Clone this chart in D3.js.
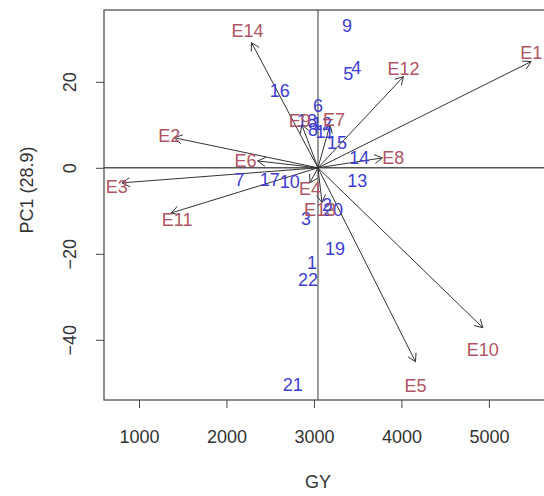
<!DOCTYPE html>
<html>
<head>
<meta charset="utf-8">
<script src="https://cdn.jsdelivr.net/npm/d3@7"></script>
<style>
  body { margin: 0; background: #fff; }
  text { font-family: "Liberation Sans", Arial, sans-serif; }
</style>
</head>
<body>
<div id="chart"></div>
<script>
// biplot data (GY units / PC1 units)
let origin = [3046, 0]

let envNames = ["E1", "E2", "E3", "E4", "E5", "E6", "E7", "E8", "E9", "E10", "E11", "E12", "E13", "E14"]
let envX = [5483, 1402, 805, 2954, 4161, 2356, 3184, 3782, 2862, 4931, 1368, 4023, 3092, 2287]
let envY = [24.7, 7.0, -3.5, -3.5, -45.1, 1.6, 10.0, 2.3, 10.0, -37.2, -10.5, 21.2, -8.1, 29.1]
let envLabelX = [5483, 1345, 747, 2954, 4161, 2218, 3230, 3908, 2839, 4931, 1437, 4023, 3069, 2241]
let envLabelY = [26.9, 7.4, -4.4, -4.9, -50.7, 1.6, 11.2, 2.3, 10.9, -42.3, -12.1, 23.0, -9.8, 31.9]

let genNames = ["1", "2", "3", "4", "5", "6", "7", "8", "9", "10", "11",
    "12", "13", "14", "15", "16", "17", "18", "19", "20", "21", "22"]
let genX = [2977, 3149, 2908, 3483, 3391, 3046, 2149, 2989, 3379, 2724, 3126,
    3092, 3494, 3517, 3264, 2609, 2494, 2920, 3241, 3218, 2759, 2931]
let genY = [-22.1, -8.6, -11.9, 23.3, 21.9, 14.4, -2.8, 8.8, 33.0, -3.3, 8.4,
    10.2, -3.0, 2.3, 5.8, 17.9, -2.8, 10.9, -18.8, -9.8, -50.5, -26.0]

let xTicks = [1000, 2000, 3000, 4000, 5000]
let yTicks = [20, 0, -20, -40]

let width = 544, height = 496
let margin = { left: 104, right: 546, top: 10, bottom: 400 }

let svg = d3.select("#chart").append("svg")
    .attr("width", width)
    .attr("height", height)

let x = d3.scaleLinear().domain([600, 5630]).range([margin.left, 544])
let y = d3.scaleLinear().domain([-54, 36.7]).range([margin.bottom, margin.top])

// reference lines through the mean
svg.append("line")
    .attr("x1", x(origin[0])).attr("x2", x(origin[0]))
    .attr("y1", margin.top).attr("y2", margin.bottom)
    .attr("stroke", "#999").attr("stroke-width", 2)
svg.append("line")
    .attr("x1", margin.left).attr("x2", margin.right)
    .attr("y1", y(origin[1])).attr("y2", y(origin[1]))
    .attr("stroke", "#555").attr("stroke-width", 1.5)

// arrows for environments
let ox = x(origin[0]), oy = y(origin[1])
let arrows = svg.append("g")
    .attr("stroke", "#333")
    .attr("stroke-width", 1)
    .attr("fill", "none")

for (let i = 0; i < envNames.length; i++) {
    let tx = x(envX[i]), ty = y(envY[i])
    let ang = Math.atan2(ty - oy, tx - ox)
    let len = 9, spread = Math.PI / 6
    arrows.append("line")
        .attr("x1", ox).attr("y1", oy)
        .attr("x2", tx).attr("y2", ty)
    arrows.append("path")
        .attr("d", "M" + (tx - len * Math.cos(ang - spread)) + "," + (ty - len * Math.sin(ang - spread)) +
            "L" + tx + "," + ty +
            "L" + (tx - len * Math.cos(ang + spread)) + "," + (ty - len * Math.sin(ang + spread)))
}

// genotype labels
svg.append("g").selectAll("text")
    .data(genNames)
    .enter()
    .append("text")
    .attr("x", function(d, i) { return x(genX[i]) })
    .attr("y", function(d, i) { return y(genY[i]) })
    .attr("dy", "0.36em")
    .attr("text-anchor", "middle")
    .attr("font-size", 18)
    .attr("fill", "#3d3dd0")
    .text(function(d) { return d })

// environment labels
svg.append("g").selectAll("text")
    .data(envNames)
    .enter()
    .append("text")
    .attr("x", function(d, i) { return x(envLabelX[i]) })
    .attr("y", function(d, i) { return y(envLabelY[i]) })
    .attr("dy", "0.36em")
    .attr("text-anchor", "middle")
    .attr("font-size", 18)
    .attr("fill", "#b05563")
    .text(function(d) { return d })

// plot box
svg.append("rect")
    .attr("x", margin.left).attr("y", margin.top)
    .attr("width", margin.right - margin.left).attr("height", margin.bottom - margin.top)
    .attr("fill", "none")
    .attr("stroke", "#444")
    .attr("stroke-width", 1.2)

// x axis
let xAx = svg.append("g")
    .attr("transform", "translate(0," + margin.bottom + ")")
    .call(d3.axisBottom(x).tickValues(xTicks).tickSize(8).tickPadding(22).tickFormat(d3.format("d")))
xAx.select(".domain").remove()
xAx.selectAll("line").attr("stroke", "#444")
xAx.selectAll("text")
    .attr("font-size", 18)
    .attr("fill", "#333")
    .attr("font-family", "Liberation Sans, Arial, sans-serif")

// y axis, labels turned along the axis like R does
let yAx = svg.append("g")
    .attr("transform", "translate(" + margin.left + ",0)")
    .call(d3.axisLeft(y).tickValues(yTicks).tickSize(8).tickFormat(d3.format("d")))
yAx.select(".domain").remove()
yAx.selectAll("line").attr("stroke", "#444")
yAx.selectAll("text")
    .attr("font-size", 18)
    .attr("fill", "#333")
    .attr("font-family", "Liberation Sans, Arial, sans-serif")
    .attr("text-anchor", "middle")
    .attr("x", null)
    .attr("dy", null)
    .attr("transform", "translate(-34,0) rotate(-90)")
    .attr("dominant-baseline", "central")

// axis titles
svg.append("text")
    .attr("x", x(3000) + 4)
    .attr("y", 488)
    .attr("text-anchor", "middle")
    .attr("font-size", 18)
    .attr("fill", "#333")
    .text("GY")

svg.append("text")
    .attr("transform", "translate(27,190) rotate(-90)")
    .attr("text-anchor", "middle")
    .attr("dominant-baseline", "central")
    .attr("font-size", 18)
    .attr("fill", "#333")
    .text("PC1 (28.9)")
</script>
</body>
</html>
